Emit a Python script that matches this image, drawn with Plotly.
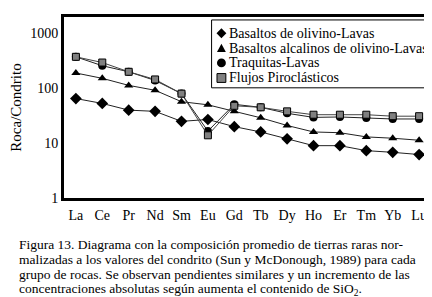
import plotly.graph_objects as go

elements = ["La", "Ce", "Pr", "Nd", "Sm", "Eu", "Gd", "Tb", "Dy", "Ho", "Er", "Tm", "Yb", "Lu"]

basaltos_olivino = [65, 53, 40, 38, 25, 27, 20, 16, 12, 9.0, 9.0, 7.3, 6.8, 6.2]
basaltos_alcalinos = [190, 152, 113, 92, 57, 50, 38, 29, 21, 16, 15.5, 13, 12.3, 11.3]
traquitas = [375, 258, 200, 139, 80, 16.6, 51, 45, 35, 29.5, 30, 28.7, 27.6, 27.6]
flujos = [375, 295, 200, 145, 80, 13.9, 48, 45, 38, 33, 33, 33, 31, 31]

series_names = ["Basaltos de olivino-Lavas", "Basaltos alcalinos de olivino-Lavas",
                "Traquitas-Lavas", "Flujos Piroclásticos"]

caption_lines = [
    "Figura 13. Diagrama con la composición promedio de tierras raras nor-",
    "malizadas a los valores del condrito (Sun y McDonough, 1989) para cada",
    "grupo de rocas. Se observan pendientes similares y un incremento de las",
    "concentraciones absolutas según aumenta el contenido de SiO<sub>2</sub>.",
]

FONT = "'Liberation Serif', 'Times New Roman', Times, serif"
W, H = 432, 297
L, R, T, B = 51, 8, 6, 107
PH = H - T - B
PW = W - L - R


def px(x):
    return (x - L) / PW


def py(y):
    return (H - B - y) / PH


styles = [
    dict(symbol="diamond", size=9, color="black", line=dict(color="black", width=0)),
    dict(symbol="triangle-up", size=8, color="black", line=dict(color="black", width=0)),
    dict(symbol="circle", size=8, color="black", line=dict(color="black", width=0)),
    dict(symbol="square", size=7, color="#808080", line=dict(color="black", width=1)),
]
data = [basaltos_olivino, basaltos_alcalinos, traquitas, flujos]
line_colors = ["#222222", "#222222", "#222222", "#444444"]

fig = go.Figure()
for name, vals, st, lc in zip(series_names, data, styles, line_colors):
    fig.add_trace(go.Scatter(x=elements, y=vals, mode="lines+markers", name=name,
                             line=dict(color=lc, width=1), marker=st, showlegend=False))

# ---- caption ----
annotations = []
for i, line in enumerate(caption_lines):
    yy = 237 + i * 15.2
    annotations.append(dict(
        text=line, xref="paper", yref="paper",
        x=px(3), y=py(yy),
        xanchor="left", yanchor="middle", showarrow=False,
        font=dict(family=FONT, size=13.5, color="black"), align="left"))

# ---- legend (drawn as a boxed key) ----
shapes = [dict(type="rect", xref="paper", yref="paper",
               x0=px(201), x1=px(421), y0=py(9), y1=py(78),
               line=dict(color="black", width=1), fillcolor="white", layer="above")]
rows = [22.5, 37.7, 52.7, 68.0]
kx = 211
for name, yy in zip(series_names, rows):
    annotations.append(dict(
        text=name, xref="paper", yref="paper", x=px(217), y=py(yy),
        xanchor="left", yanchor="middle", showarrow=False,
        font=dict(family=FONT, size=14, color="black")))


def pth(points):
    s = "M " + " L ".join(f"{px(a):.5f},{py(b):.5f}" for a, b in points) + " Z"
    return s


# diamond
shapes.append(dict(type="path", xref="paper", yref="paper", layer="above",
                   path=pth([(kx - 5, rows[0]), (kx, rows[0] - 5), (kx + 5, rows[0]), (kx, rows[0] + 5)]),
                   fillcolor="black", line=dict(width=0)))
# triangle
shapes.append(dict(type="path", xref="paper", yref="paper", layer="above",
                   path=pth([(kx - 4.5, rows[1] + 4), (kx, rows[1] - 4.5), (kx + 4.5, rows[1] + 4)]),
                   fillcolor="black", line=dict(width=0)))
# circle
shapes.append(dict(type="circle", xref="paper", yref="paper", layer="above",
                   x0=px(kx - 4.5), x1=px(kx + 4.5), y0=py(rows[2] - 4.5), y1=py(rows[2] + 4.5),
                   fillcolor="black", line=dict(width=0)))
# square
shapes.append(dict(type="rect", xref="paper", yref="paper", layer="above",
                   x0=px(kx - 4.5), x1=px(kx + 4.5), y0=py(rows[3] - 4.5), y1=py(rows[3] + 4.5),
                   fillcolor="#808080", line=dict(color="black", width=1)))

fig.update_layout(
    width=W, height=H,
    margin=dict(l=L, r=R, t=T, b=B, pad=0),
    paper_bgcolor="white", plot_bgcolor="white",
    font=dict(family=FONT, size=13, color="black"),
    showlegend=False,
    xaxis=dict(type="category", range=[-0.45, 13.45], showgrid=False, zeroline=False,
               showline=True, linecolor="black", linewidth=3, mirror=True,
               ticks="", tickfont=dict(family=FONT, size=14), ticklabelstandoff=2),
    yaxis=dict(type="log", range=[0, 3.3], showgrid=False, zeroline=False,
               showline=True, linecolor="black", linewidth=3, mirror=True,
               tickvals=[1, 10, 100, 1000], ticktext=["1", "10", "100", "1000"],
               ticks="", tickfont=dict(family=FONT, size=14),
               title=dict(text="Roca/Condrito", font=dict(family=FONT, size=15), standoff=6)),
    shapes=shapes,
    annotations=annotations,
)

fig.write_html("out.html")
